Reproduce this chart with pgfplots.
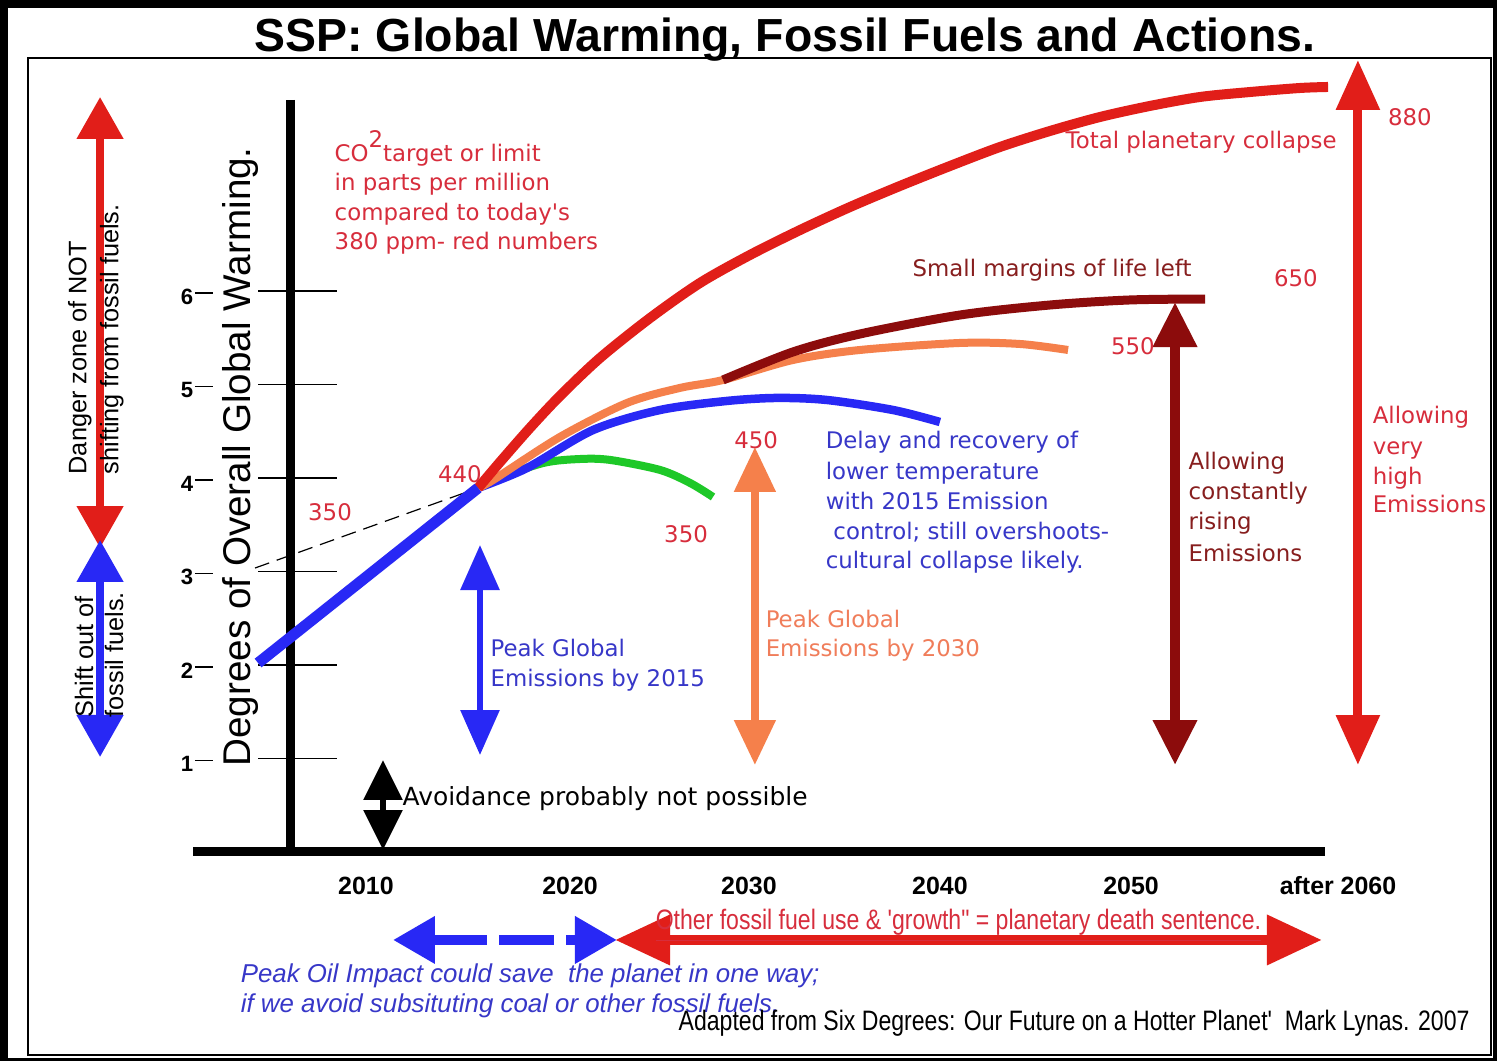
\documentclass[border=0pt]{standalone}
\usepackage{fontspec}
\setmainfont{Liberation Sans}
\newfontfamily\dv{DejaVu Sans}
\newfontfamily\narrow[FakeStretch=0.82]{Liberation Sans}
\usepackage{pgfplots}
\pgfplotsset{compat=1.18}
\usetikzlibrary{arrows.meta}
\definecolor{cred}{RGB}{225,30,25}
\definecolor{cdred}{RGB}{140,12,12}
\definecolor{corange}{RGB}{245,128,75}
\definecolor{cblue}{RGB}{40,40,245}
\definecolor{cgreen}{RGB}{30,200,40}
\definecolor{tred}{RGB}{215,45,60}
\definecolor{tblue}{RGB}{55,55,200}
\definecolor{torange}{RGB}{240,125,90}
\definecolor{tdred}{RGB}{135,30,30}
\newcommand\fs[2]{\fontsize{#1}{#2}\selectfont}
\tikzset{tip/.style 2 args={arrows={Triangle[width=#1,length=#2]-Triangle[width=#1,length=#2]}}}
\begin{document}
\begin{tikzpicture}
\begin{axis}[width=14.97cm,height=10.61cm,scale only axis,hide axis,clip=false,
  xmin=1990.87,xmax=2069.12,ymin=-2.2353,ymax=9.1123]
% background
\fill[black] (rel axis cs:0,0) rectangle (rel axis cs:1,1);
\fill[white] (axis cs:1991.29,-2.203) rectangle (axis cs:2068.91,9.027);
\draw[line width=0.02cm] (axis cs:1992.33,8.492) rectangle (axis cs:2068.81,-2.171);
% axes
\addplot[black,line width=0.09cm] coordinates {(2006.08,8.043) (2006.08,-0.04)};
\addplot[black,line width=0.09cm] coordinates {(2000.96,0) (2060.13,0)};
\addplot[black,line width=0.015cm] coordinates {(2004.36,1) (2008.49,1)};
\addplot[black,line width=0.015cm] coordinates {(2004.36,2) (2008.49,2)};
\addplot[black,line width=0.015cm] coordinates {(2004.36,3) (2008.49,3)};
\addplot[black,line width=0.015cm] coordinates {(2004.36,4) (2008.49,4)};
\addplot[black,line width=0.015cm] coordinates {(2004.36,5) (2008.49,5)};
\addplot[black,line width=0.015cm] coordinates {(2004.36,6) (2008.49,6)};
\addplot[black,line width=0.015cm] coordinates {(2001.06,0.98) (2002.00,0.98)};
\addplot[black,line width=0.015cm] coordinates {(2001.06,1.98) (2002.00,1.98)};
\addplot[black,line width=0.015cm] coordinates {(2001.06,2.98) (2002.00,2.98)};
\addplot[black,line width=0.015cm] coordinates {(2001.06,3.98) (2002.00,3.98)};
\addplot[black,line width=0.015cm] coordinates {(2001.06,4.98) (2002.00,4.98)};
\addplot[black,line width=0.015cm] coordinates {(2001.06,5.98) (2002.00,5.98)};
\begin{scope}[every node/.style={font=\bfseries\fs{6.3}{7}}]
\node at (axis cs:2000.64,0.94) {1};
\node at (axis cs:2000.64,1.94) {2};
\node at (axis cs:2000.64,2.94) {3};
\node at (axis cs:2000.64,3.94) {4};
\node at (axis cs:2000.64,4.94) {5};
\node at (axis cs:2000.64,5.94) {6};
\end{scope}
\node[rotate=90,font=\fs{11}{12}] at (axis cs:2003.42,4.225) {Degrees of Overall Global Warming.};
\begin{scope}[every node/.style={anchor=base,font=\bfseries\fs{7.1}{8}}]
\node at (axis cs:2010.00,-0.46) {2010};
\node at (axis cs:2020.67,-0.46) {2020};
\node at (axis cs:2030.02,-0.46) {2030};
\node at (axis cs:2040.00,-0.46) {2040};
\node at (axis cs:2049.99,-0.46) {2050};
\node at (axis cs:2060.81,-0.46) {after 2060};
\end{scope}
% dashed 350 line
\addplot[black,line width=0.012cm,dash pattern=on 0.15cm off 0.08cm] coordinates {(2004.20,3.037) (2015.86,3.893)};
% scenario curves
\addplot[cgreen,line width=0.08cm,smooth] coordinates {(2015.86,3.893) (2016.65,3.979) (2019.26,4.160) (2021.19,4.203) (2022.76,4.193) (2025.37,4.086) (2026.94,3.947) (2028.14,3.797)};
\addplot[cblue,line width=0.085cm,smooth] coordinates {(2015.86,3.893) (2018.42,4.107) (2021.87,4.513) (2025.37,4.727) (2028.87,4.824) (2031.49,4.856) (2034.10,4.834) (2037.55,4.727) (2040.00,4.599)};
\addplot[corange,line width=0.08cm,smooth] coordinates {(2015.86,3.893) (2016.65,3.979) (2020.14,4.439) (2023.64,4.802) (2026.41,4.963) (2028.66,5.048) (2032.32,5.262) (2035.82,5.369) (2041.05,5.444) (2044.19,5.433) (2046.70,5.369)};
\addplot[cdred,line width=0.09cm,smooth] coordinates {(2028.66,5.048) (2032.32,5.348) (2035.82,5.540) (2041.05,5.743) (2045.75,5.850) (2049.94,5.904) (2053.86,5.914)};
\addplot[cred,line width=0.1cm,smooth] coordinates {(2015.86,3.893) (2017.01,4.171) (2018.57,4.535) (2020.14,4.877) (2022.23,5.283) (2024.85,5.711) (2027.46,6.086) (2030.07,6.385) (2032.69,6.652) (2035.30,6.898) (2037.91,7.123) (2040.53,7.337) (2043.14,7.540) (2045.75,7.711) (2048.37,7.861) (2050.98,7.979) (2053.60,8.075) (2056.21,8.128) (2058.82,8.171) (2060.29,8.182)};
\addplot[cblue,line width=0.11cm] coordinates {(2004.36,2.021) (2015.86,3.893)};
% vertical arrows
\addplot[cred,line width=0.08cm,tip={0.45cm}{0.42cm}] coordinates {(1996.10,8.075) (1996.10,3.251)};
\addplot[cblue,line width=0.08cm,tip={0.45cm}{0.42cm}] coordinates {(1996.10,3.337) (1996.10,1.016)};
\addplot[cblue,line width=0.06cm,tip={0.38cm}{0.45cm}] coordinates {(2015.96,3.283) (2015.96,1.037)};
\addplot[corange,line width=0.08cm,tip={0.4cm}{0.45cm}] coordinates {(2030.33,4.332) (2030.33,0.930)};
\addplot[cdred,line width=0.1cm,tip={0.42cm}{0.45cm}] coordinates {(2052.29,5.882) (2052.29,0.930)};
\addplot[cred,line width=0.09cm,tip={0.42cm}{0.5cm}] coordinates {(2061.85,8.471) (2061.85,0.930)};
\addplot[black,line width=0.06cm,tip={0.38cm}{0.4cm}] coordinates {(2010.89,0.984) (2010.89,0.021)};
% horizontal arrows
\addplot[cblue,line width=0.1cm,dash pattern=on 0.55cm off 0.12cm,tip={0.45cm}{0.42cm}] coordinates {(2011.41,-0.941) (2023.12,-0.941)};
\addplot[cred,line width=0.1cm,tip={0.48cm}{0.55cm}] coordinates {(2023.02,-0.941) (2059.97,-0.941)};
% left rotated texts
\node[rotate=90,anchor=west,inner sep=0pt,font=\fs{7.2}{8}] at (axis cs:1995.05,4.032) {Danger zone of NOT};
\node[rotate=90,anchor=west,inner sep=0pt,font=\fs{7.2}{8}] at (axis cs:1996.72,4.032) {shifting from fossil fuels.};
\node[rotate=90,anchor=west,inner sep=0pt,font=\fs{7.2}{8}] at (axis cs:1995.26,1.433) {Shift out of};
\node[rotate=90,anchor=west,inner sep=0pt,font=\fs{7.2}{8}] at (axis cs:1996.83,1.433) {fossil fuels.};
% title
\node[anchor=base,font=\bfseries\fs{13.2}{15}] at (axis cs:2031.90,8.556) {SSP: Global Warming, Fossil Fuels and Actions.};
% annotations
\begin{scope}[every node/.style={anchor=base west,inner sep=0pt,font=\dv\fs{6.5}{8}}]
\node[text=tred] at (axis cs:2008.33,7.390) {CO\raisebox{0.6em}{2}target or limit};
\node[text=tred] at (axis cs:2008.33,7.070) {in parts per million};
\node[text=tred] at (axis cs:2008.33,6.749) {compared to today's};
\node[text=tred] at (axis cs:2008.33,6.439) {380 ppm- red numbers};
\node[text=tred] at (axis cs:2046.54,7.529) {Total planetary collapse};
\node[text=tdred] at (axis cs:2038.54,6.150) {Small margins of life left};
\node[text=tblue] at (axis cs:2034.00,4.310) {Delay and recovery of};
\node[text=tblue] at (axis cs:2034.00,3.989) {lower temperature};
\node[text=tblue] at (axis cs:2034.00,3.658) {with 2015 Emission};
\node[text=tblue] at (axis cs:2034.40,3.337) {control; still overshoots-};
\node[text=tblue] at (axis cs:2034.00,3.027) {cultural collapse likely.};
\node[text=tblue] at (axis cs:2016.48,2.096) {Peak Global};
\node[text=tblue] at (axis cs:2016.48,1.765) {Emissions by 2015};
\node[text=torange] at (axis cs:2030.86,2.396) {Peak Global};
\node[text=torange] at (axis cs:2030.86,2.086) {Emissions by 2030};
\node[text=tdred] at (axis cs:2052.97,4.086) {Allowing};
\node[text=tdred] at (axis cs:2052.97,3.765) {constantly};
\node[text=tdred] at (axis cs:2052.97,3.444) {rising};
\node[text=tdred] at (axis cs:2052.97,3.112) {Emissions};
\node[text=tred] at (axis cs:2062.59,4.578) {Allowing};
\node[text=tred] at (axis cs:2062.59,4.246) {very};
\node[text=tred] at (axis cs:2062.59,3.925) {high};
\node[text=tred] at (axis cs:2062.59,3.626) {Emissions};
\end{scope}
\begin{scope}[every node/.style={anchor=base,inner sep=0pt,font=\dv\fs{6.5}{8},text=tred}]
\node at (axis cs:2014.91,3.957) {440};
\node at (axis cs:2008.12,3.540) {350};
\node at (axis cs:2026.73,3.305) {350};
\node at (axis cs:2030.39,4.310) {450};
\node at (axis cs:2050.09,5.316) {550};
\node at (axis cs:2058.61,6.043) {650};
\node at (axis cs:2064.57,7.775) {880};
\end{scope}
\node[anchor=base west,inner sep=0pt,font=\dv\fs{7.1}{8}] at (axis cs:2011.88,0.492) {Avoidance probably not possible};
\node[anchor=base west,inner sep=0pt,font=\narrow\fs{8.0}{9},text=tred] at (axis cs:2025.11,-0.834) {\underline{Other fossil fuel use \& 'growth" = planetary death sentence.}};
\node[anchor=base west,inner sep=0pt,font=\itshape\fs{7.35}{9},text=tblue] at (axis cs:2003.42,-1.401) {Peak Oil Impact could save \ the planet in one way;};
\node[anchor=base west,inner sep=0pt,font=\itshape\fs{7.35}{9},text=tblue] at (axis cs:2003.42,-1.722) {if we avoid subsituting coal or other fossil fuels,};
\node[anchor=base west,inner sep=0pt,font=\narrow\fs{8.0}{9}] at (axis cs:2026.31,-1.914) {Adapted from Six Degrees: Our Future on a Hotter Planet' \ Mark Lynas. 2007};
\end{axis}
\end{tikzpicture}
\end{document}
